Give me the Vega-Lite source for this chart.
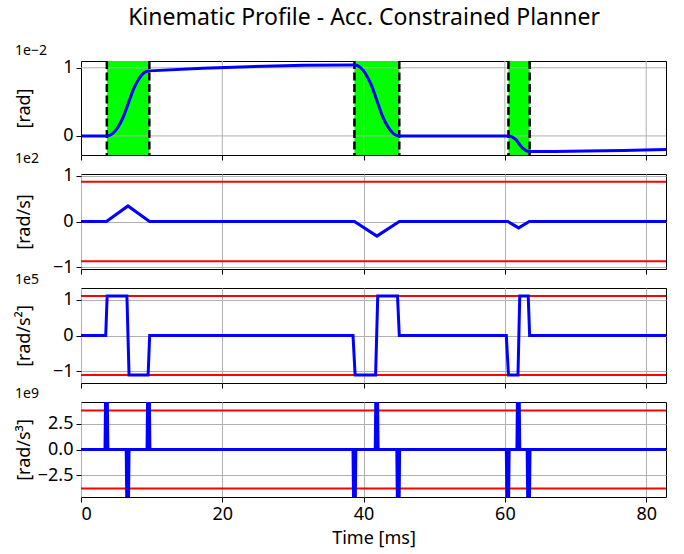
{
  "$schema": "https://vega.github.io/schema/vega-lite/v6.json",
  "padding": {"left": 14, "top": 7, "right": 5, "bottom": 3},
  "title": {"text": "Kinematic Profile - Acc. Constrained Planner", "font": "Noto Sans", "fontSize": 23, "fontWeight": "normal", "color": "#000", "anchor": "middle", "offset": 13, "dx": 23},
  "spacing": 19,
  "bounds": "flush",
  "config": {
    "font": "Noto Sans",
    "view": {"stroke": "#000", "strokeWidth": 1},
    "axis": {"labelFont": "Noto Sans", "titleFont": "Noto Sans", "labelFontSize": 18, "titleFontSize": 18, "titleFontWeight": "normal", "labelColor": "#000", "titleColor": "#000", "tickColor": "#000", "tickSize": 5, "tickWidth": 1, "domain": false, "gridColor": "#b0b0b0", "gridWidth": 1, "labelPadding": 3},
    "title": {"font": "Noto Sans", "fontSize": 14, "fontWeight": "normal", "anchor": "start", "offset": 1, "color": "#000"}
  },
  "datasets": {
    "pos": [
      {"t": 0, "v": 0}, {"t": 3.66, "v": 0}, {"t": 4.42, "v": 0.03}, {"t": 5.18, "v": 0.12}, {"t": 5.94, "v": 0.27}, {"t": 6.7, "v": 0.48}, {"t": 7.45, "v": 0.69}, {"t": 8.21, "v": 0.84}, {"t": 8.97, "v": 0.93}, {"t": 9.7, "v": 0.955},
      {"t": 38.7, "v": 1.04}, {"t": 39.49, "v": 1.01}, {"t": 40.29, "v": 0.91}, {"t": 41.08, "v": 0.75}, {"t": 41.88, "v": 0.52}, {"t": 42.67, "v": 0.29}, {"t": 43.46, "v": 0.13}, {"t": 44.26, "v": 0.03}, {"t": 45.05, "v": 0},
      {"t": 60.5, "v": 0}, {"t": 60.88, "v": -0.007}, {"t": 61.25, "v": -0.03}, {"t": 61.63, "v": -0.065}, {"t": 62.0, "v": -0.115}, {"t": 62.38, "v": -0.165}, {"t": 62.75, "v": -0.2}, {"t": 63.13, "v": -0.222}, {"t": 63.5, "v": -0.23},
      {"t": 82.8, "v": -0.2}
    ],
    "zones": [
      {"t": 3.66, "t2": 9.67}, {"t": 38.7, "t2": 45.05}, {"t": 60.5, "t2": 63.5}
    ],
    "edges": [
      {"t": 3.66}, {"t": 9.67}, {"t": 38.7}, {"t": 45.05}, {"t": 60.5}, {"t": 63.5}
    ],
    "gridx": [{"t": 20}, {"t": 40}, {"t": 60}, {"t": 80}],
    "gridy1": [{"v": 0}, {"v": 1}],
    "vel": [
      {"t": 0, "v": 0}, {"t": 3.6, "v": 0}, {"t": 6.65, "v": 0.34}, {"t": 9.7, "v": 0},
      {"t": 38.7, "v": 0}, {"t": 41.88, "v": -0.32}, {"t": 45.05, "v": 0},
      {"t": 60.4, "v": 0}, {"t": 61.95, "v": -0.14}, {"t": 63.45, "v": 0},
      {"t": 82.8, "v": 0}
    ],
    "vlim": [{"v": 0.87}, {"v": -0.87}],
    "acc": [
      {"t": 0, "v": 0}, {"t": 3.5, "v": 0}, {"t": 3.7, "v": 1.1}, {"t": 6.5, "v": 1.1}, {"t": 6.8, "v": -1.1}, {"t": 9.5, "v": -1.1}, {"t": 9.72, "v": 0},
      {"t": 38.5, "v": 0}, {"t": 38.8, "v": -1.1}, {"t": 41.7, "v": -1.1}, {"t": 42.0, "v": 1.1}, {"t": 44.8, "v": 1.1}, {"t": 45.05, "v": 0},
      {"t": 60.2, "v": 0}, {"t": 60.5, "v": -1.1}, {"t": 61.85, "v": -1.1}, {"t": 62.1, "v": 1.1}, {"t": 63.3, "v": 1.1}, {"t": 63.5, "v": 0},
      {"t": 82.8, "v": 0}
    ],
    "alim": [{"v": 1.1}, {"v": -1.1}],
    "jerk": [
      {"t": 0, "v": 0},
      {"t": 3.4, "v": 0}, {"t": 3.55, "v": 10}, {"t": 3.65, "v": 10}, {"t": 3.8, "v": 0},
      {"t": 6.4, "v": 0}, {"t": 6.55, "v": -10}, {"t": 6.65, "v": -10}, {"t": 6.8, "v": 0},
      {"t": 9.35, "v": 0}, {"t": 9.5, "v": 10}, {"t": 9.6, "v": 10}, {"t": 9.75, "v": 0},
      {"t": 38.5, "v": 0}, {"t": 38.65, "v": -10}, {"t": 38.75, "v": -10}, {"t": 38.9, "v": 0},
      {"t": 41.65, "v": 0}, {"t": 41.8, "v": 10}, {"t": 41.9, "v": 10}, {"t": 42.05, "v": 0},
      {"t": 44.7, "v": 0}, {"t": 44.85, "v": -10}, {"t": 44.95, "v": -10}, {"t": 45.1, "v": 0},
      {"t": 60.2, "v": 0}, {"t": 60.35, "v": -10}, {"t": 60.45, "v": -10}, {"t": 60.6, "v": 0},
      {"t": 61.7, "v": 0}, {"t": 61.85, "v": 10}, {"t": 61.95, "v": 10}, {"t": 62.1, "v": 0},
      {"t": 63.15, "v": 0}, {"t": 63.3, "v": -10}, {"t": 63.4, "v": -10}, {"t": 63.55, "v": 0},
      {"t": 82.8, "v": 0}
    ],
    "jlim": [{"v": 3.8}, {"v": -3.8}]
  },
  "vconcat": [
    {
      "width": 585, "height": 94,
      "title": {"text": "1e−2"},
      "layer": [
        {"data": {"name": "zones"}, "mark": {"type": "rect", "color": "#00ff00", "clip": true},
         "encoding": {"x": {"field": "t", "type": "quantitative"}, "x2": {"field": "t2"}}},
        {"data": {"name": "gridx"}, "mark": {"type": "rule", "color": "#b0b0b0", "strokeWidth": 1},
         "encoding": {"x": {"field": "t", "type": "quantitative"}}},
        {"data": {"name": "gridy1"}, "mark": {"type": "rule", "color": "#b0b0b0", "strokeWidth": 1},
         "encoding": {"y": {"field": "v", "type": "quantitative"}}},
        {"data": {"name": "edges"}, "mark": {"type": "rule", "color": "#000", "strokeWidth": 2.5, "strokeDash": [8, 3.5]},
         "encoding": {"x": {"field": "t", "type": "quantitative"}}},
        {"data": {"name": "pos"}, "mark": {"type": "line", "color": "#0000ff", "strokeWidth": 3, "interpolate": "monotone", "clip": true},
         "encoding": {
           "x": {"field": "t", "type": "quantitative", "scale": {"domain": [0, 82.8], "nice": false, "zero": false}, "axis": {"values": [0, 20, 40, 60, 80], "labels": false, "title": null, "grid": false}},
           "y": {"field": "v", "type": "quantitative", "scale": {"domain": [-0.28, 1.1], "nice": false, "zero": false}, "axis": {"values": [0, 1], "format": ".0f", "grid": false, "title": "[rad]", "titleX": -57, "titleY": 47, "titleAngle": -90, "titleAlign": "center", "titleBaseline": "middle"}}
         }}
      ]
    },
    {
      "width": 585, "height": 95,
      "title": {"text": "1e2"},
      "layer": [
        {"data": {"name": "vlim"}, "mark": {"type": "rule", "color": "#ff0000", "strokeWidth": 2},
         "encoding": {"y": {"field": "v", "type": "quantitative"}}},
        {"data": {"name": "vel"}, "mark": {"type": "line", "color": "#0000ff", "strokeWidth": 3, "clip": true},
         "encoding": {
           "x": {"field": "t", "type": "quantitative", "scale": {"domain": [0, 82.8], "nice": false, "zero": false}, "axis": {"values": [0, 20, 40, 60, 80], "labels": false, "title": null, "grid": true}},
           "y": {"field": "v", "type": "quantitative", "scale": {"domain": [-1.04, 1.04], "nice": false, "zero": false}, "axis": {"values": [-1, 0, 1], "format": ".0f", "grid": true, "title": "[rad/s]", "titleX": -57, "titleY": 47.5, "titleAngle": -90, "titleAlign": "center", "titleBaseline": "middle"}}
         }}
      ]
    },
    {
      "width": 585, "height": 95,
      "title": {"text": "1e5"},
      "layer": [
        {"data": {"name": "alim"}, "mark": {"type": "rule", "color": "#ff0000", "strokeWidth": 2},
         "encoding": {"y": {"field": "v", "type": "quantitative"}}},
        {"data": {"name": "acc"}, "mark": {"type": "line", "color": "#0000ff", "strokeWidth": 3, "clip": true},
         "encoding": {
           "x": {"field": "t", "type": "quantitative", "scale": {"domain": [0, 82.8], "nice": false, "zero": false}, "axis": {"values": [0, 20, 40, 60, 80], "labels": false, "title": null, "grid": true}},
           "y": {"field": "v", "type": "quantitative", "scale": {"domain": [-1.32, 1.32], "nice": false, "zero": false}, "axis": {"values": [-1, 0, 1], "format": ".0f", "grid": true, "title": "[rad/s²]", "titleX": -57, "titleY": 47.5, "titleAngle": -90, "titleAlign": "center", "titleBaseline": "middle"}}
         }}
      ]
    },
    {
      "width": 585, "height": 95,
      "title": {"text": "1e9"},
      "layer": [
        {"data": {"name": "jlim"}, "mark": {"type": "rule", "color": "#ff0000", "strokeWidth": 2},
         "encoding": {"y": {"field": "v", "type": "quantitative"}}},
        {"data": {"name": "jerk"}, "mark": {"type": "line", "color": "#0000ff", "strokeWidth": 3, "clip": true},
         "encoding": {
           "x": {"field": "t", "type": "quantitative", "scale": {"domain": [0, 82.8], "nice": false, "zero": false}, "axis": {"values": [0, 20, 40, 60, 80], "labels": true, "title": "Time [ms]", "grid": true, "titlePadding": 6}},
           "y": {"field": "v", "type": "quantitative", "scale": {"domain": [-4.62, 4.62], "nice": false, "zero": false}, "axis": {"values": [-2.5, 0, 2.5], "format": ".1f", "grid": true, "title": "[rad/s³]", "titleX": -57, "titleY": 47.5, "titleAngle": -90, "titleAlign": "center", "titleBaseline": "middle"}}
         }}
      ]
    }
  ]
}
